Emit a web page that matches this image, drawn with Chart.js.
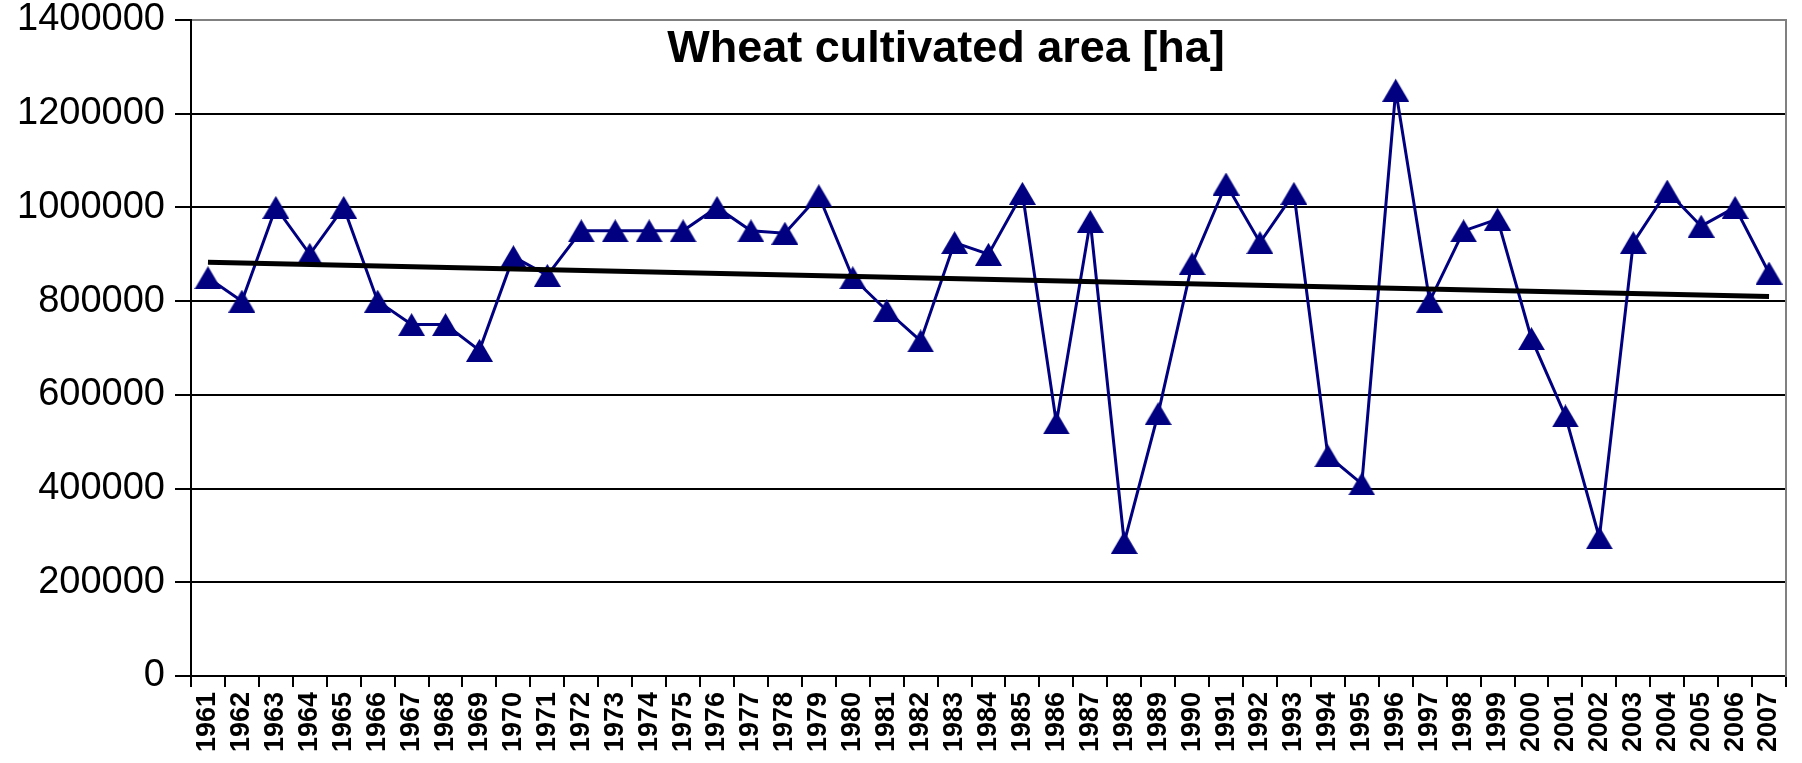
<!DOCTYPE html>
<html>
<head>
<meta charset="utf-8">
<script src="https://cdn.jsdelivr.net/npm/chart.js"></script>
<style>
  body { margin: 0; background: #fff; }
  #wrap { width: 1802px; height: 763px; }
</style>
</head>
<body>
<div id="wrap"><canvas id="chart" width="1802" height="763"></canvas></div>
<script>
const years = ['1961', '1962', '1963', '1964', '1965', '1966', '1967', '1968', '1969', '1970',
    '1971', '1972', '1973', '1974', '1975', '1976', '1977', '1978', '1979', '1980',
    '1981', '1982', '1983', '1984', '1985', '1986', '1987', '1988', '1989', '1990',
    '1991', '1992', '1993', '1994', '1995', '1996', '1997', '1998', '1999', '2000',
    '2001', '2002', '2003', '2004', '2005', '2006', '2007'];

const wheatArea = [850000, 800000, 1000000, 900000, 1000000, 800000, 750000, 750000, 695000, 895000,
    855000, 950000, 950000, 950000, 950000, 1000000, 950000, 945000, 1025000, 850000,
    780000, 715000, 925000, 900000, 1030000, 540000, 970000, 285000, 560000, 880000,
    1050000, 925000, 1030000, 470000, 410000, 1250000, 800000, 950000, 975000, 720000,
    555000, 295000, 925000, 1035000, 960000, 1000000, 860000];

// trend line ends
const trendYears = ['1961', '2007'];
const trendValues = [883000, 810000];

const yTicks = [0, 200000, 400000, 600000, 800000, 1000000, 1200000, 1400000];

const titleText = 'Wheat cultivated area [ha]';
const fontFamily = '"Liberation Sans", Arial, sans-serif';

// triangle marker centred on its bounding box, like the spreadsheet one
function makeTriangle(w, h, color) {
    const c = document.createElement('canvas');
    c.width = w;
    c.height = h;
    const g = c.getContext('2d');
    g.fillStyle = color;
    g.beginPath();
    g.moveTo(0, h);
    g.lineTo(w / 2, 0);
    g.lineTo(w, h);
    g.closePath();
    g.fill();
    return c;
}
const triangle = makeTriangle(27, 23, '#000080');

const titlePlugin = {
    id: 'plotTitle',
    afterDraw(chart) {
        const ctx = chart.ctx;
        ctx.save();
        ctx.font = 'bold 45px ' + fontFamily;
        ctx.fillStyle = '#000';
        ctx.textAlign = 'center';
        ctx.textBaseline = 'alphabetic';
        ctx.fillText(titleText, 946, 62);
        ctx.restore();
    }
};

new Chart(document.getElementById('chart'), {
    type: 'line',
    data: {
        labels: years,
        datasets: [
            {
                label: 'trend',
                data: trendYears.map((y, i) => ({ x: y, y: trendValues[i] })),
                borderColor: '#000',
                borderWidth: 5,
                pointRadius: 0,
                tension: 0,
                order: 0
            },
            {
                label: 'Wheat cultivated area',
                data: wheatArea,
                borderColor: '#000080',
                backgroundColor: '#000080',
                borderWidth: 3,
                pointStyle: triangle,
                pointRadius: 13,
                tension: 0,
                order: 1
            }
        ]
    },
    options: {
        responsive: false,
        animation: false,
        layout: { padding: { top: 20, right: 4, left: 0, bottom: 0 } },
        plugins: {
            legend: { display: false },
            title: { display: false },
            tooltip: { enabled: false }
        },
        scales: {
            x: {
                type: 'category',
                offset: true,
                afterFit: (axis) => {
                    axis.height = 87;
                    axis.paddingLeft = 0;
                    axis.paddingRight = 0;
                },
                grid: {
                    offset: true,
                    drawOnChartArea: false,
                    drawTicks: true,
                    tickLength: 11,
                    color: '#000',
                    lineWidth: 2
                },
                border: { color: '#000', width: 2 },
                ticks: {
                    autoSkip: false,
                    minRotation: 90,
                    maxRotation: 90,
                    padding: 5,
                    color: '#000',
                    font: { family: fontFamily, size: 27, weight: 'bold' }
                }
            },
            y: {
                min: 0,
                max: 1400000,
                afterFit: (axis) => {
                    axis.width = 191;
                    axis.paddingTop = 0;
                    axis.paddingBottom = 0;
                },
                afterBuildTicks: (axis) => { axis.ticks = yTicks.map(v => ({ value: v })); },
                grid: {
                    color: (ctx) => ctx.tick && ctx.tick.value === 1400000 ? '#808080' : '#000',
                    tickColor: '#000',
                    lineWidth: 2,
                    tickLength: 16
                },
                border: { color: '#000', width: 2 },
                ticks: {
                    padding: 10,
                    color: '#000',
                    font: { family: fontFamily, size: 38 },
                    callback: (value) => String(value)
                }
            },
            y2: {
                position: 'right',
                min: 0,
                max: 1400000,
                afterFit: (axis) => {
                    axis.width = 0;
                    axis.paddingTop = 0;
                    axis.paddingBottom = 0;
                },
                grid: { display: false },
                ticks: { display: false },
                border: { color: '#808080', width: 2 }
            }
        }
    },
    plugins: [titlePlugin]
});
</script>
</body>
</html>
